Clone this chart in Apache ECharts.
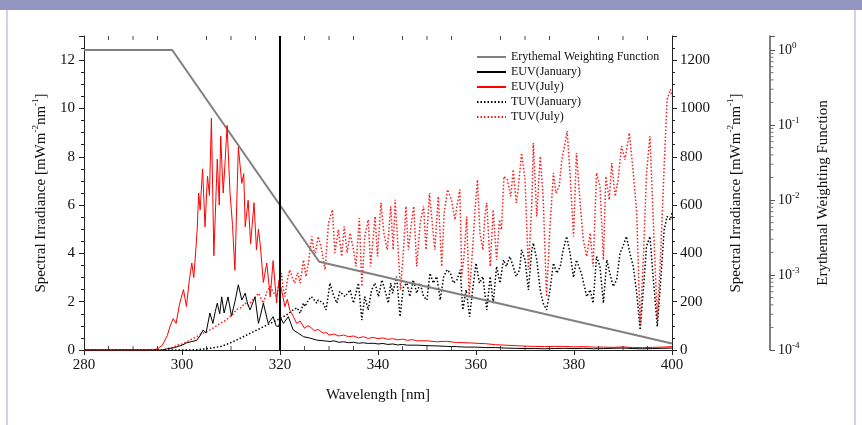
<!DOCTYPE html>
<html>
<head>
<meta charset="utf-8">
<script src="https://cdn.jsdelivr.net/npm/echarts@6/dist/echarts.min.js"></script>
<style>
html,body{margin:0;padding:0;background:#fff;}
#c{width:862px;height:425px;}
</style>
</head>
<body>
<div id="c"></div>
<script>
// ---- data (wavelength nm, value) ----
const xTicks = [280, 300, 320, 340, 360, 380, 400];
const xMinorTicks = [285,290,295,305,310,315,325,330,335,345,350,355,365,370,375,385,390,395];
const leftTicks = [0, 2, 4, 6, 8, 10, 12];
const rightTicks = [0, 200, 400, 600, 800, 1000, 1200];
const logTicks = [-4, -3, -2, -1, 0];
const logMinorMult = [2, 3, 4, 5, 6, 7, 8, 9];

const erythemal = [[280, 1], [298, 1], [328, 0.0015], [400, 0.000122]];

const euvJan = [[280,0],[296,0],[297,0.05],[298.5,0.1],[300,0.2],[301,0.3],[302,0.35],[303,0.4],[303.7,0.6],[304.3,0.83],[304.9,0.7],[305.7,1.53],[306.3,1.1],[306.8,1.6],[307.2,1.94],[307.7,1.5],[308.1,2.2],[308.6,1.53],[309.4,2.2],[310.1,1.4],[310.8,2.0],[311.5,2.7],[312.2,2.07],[312.9,2.35],[313.4,1.9],[313.9,1.66],[314.9,2.2],[315.6,1.1],[316.1,1.5],[316.6,1.94],[317.6,1.1],[318.6,1.38],[319.2,1.0],[319.7,0.97],[320.2,1.3],[320.7,1.1],[321.7,1.38],[322.7,0.83],[323.7,0.7],[324.8,0.55],[326,0.5],[327.5,0.41],[329,0.38],[330.2,0.35],[331,0.38],[332,0.32],[333,0.34],[334,0.3],[335,0.32],[336,0.28],[337,0.3],[338,0.27],[339,0.28],[340,0.25],[341,0.27],[342,0.23],[343,0.25],[344,0.21],[345,0.23],[346,0.2],[348,0.2],[350,0.18],[352,0.17],[354,0.15],[356,0.14],[358,0.12],[360,0.12],[362,0.1],[364,0.1],[366,0.08],[368,0.07],[370,0.06],[372,0.06],[374,0.05],[376,0.06],[378,0.07],[380,0.06],[382,0.07],[384,0.05],[386,0.06],[388,0.07],[390,0.08],[392,0.06],[394,0.05],[396,0.06],[398,0.07],[400,0.08]];

const euvJul = [[280,0],[294,0],[295,0.05],[296,0.2],[297,0.6],[297.6,1.0],[298.2,1.3],[298.8,1.1],[299.5,1.9],[300.3,2.5],[300.9,1.8],[301.5,2.9],[302,3.6],[302.4,3.0],[302.7,3.8],[303.1,5.0],[303.4,6.5],[303.7,5.8],[304.2,7.5],[304.7,5.1],[305.2,7.2],[305.6,6.4],[306,9.6],[306.5,3.9],[307.2,7.9],[307.6,6.0],[307.9,8.85],[308.4,6.5],[308.8,7.8],[309.2,9.3],[309.8,6.5],[310.3,5.2],[310.8,3.3],[311.5,8.4],[312.2,6.9],[312.6,7.3],[312.9,5.1],[313.5,6.2],[314,4.4],[314.7,6.1],[315.2,4.15],[315.6,5.0],[316,4.3],[316.6,2.8],[317.3,3.6],[318,2.2],[318.6,3.7],[319.3,1.95],[319.8,2.9],[320.3,2.5],[321,1.8],[321.5,2.1],[322,1.65],[322.7,1.4],[323.4,1.1],[324.1,1.2],[325,0.9],[325.6,1.0],[326.1,0.97],[327,0.8],[327.8,0.85],[328.8,0.7],[329.5,0.72],[330,0.62],[331,0.66],[332,0.58],[333,0.62],[334,0.55],[335,0.58],[336,0.5],[337,0.55],[338,0.48],[339,0.52],[340,0.47],[341,0.5],[342,0.44],[343,0.47],[344,0.42],[345,0.45],[346,0.4],[347,0.43],[348,0.38],[350,0.38],[352,0.34],[354,0.36],[356,0.31],[358,0.3],[360,0.28],[362,0.26],[364,0.22],[366,0.2],[368,0.18],[370,0.16],[372,0.15],[374,0.14],[376,0.15],[378,0.15],[380,0.13],[382,0.14],[384,0.12],[386,0.12],[388,0.11],[390,0.13],[392,0.1],[394,0.1],[396,0.11],[398,0.12],[400,0.14]];

const tuvJan = [[280,0],[302,0],[304,3],[306,8],[308,15],[309.8,29],[311,40],[312.5,55],[314,70],[315.3,83],[316.5,95],[318,110],[319.5,125],[320.7,138],[321.7,150],[322.7,166],[323.5,175],[324.1,152],[324.8,194],[325.1,180],[325.8,207],[326.4,221],[326.8,228],[327.5,194],[327.8,207],[328.8,194],[329.4,166],[330.2,277],[330.9,228],[331.6,194],[332.2,242],[333.3,221],[334.3,249],[335,194],[336,277],[336.7,124],[337.3,221],[338,166],[338.7,249],[339.4,277],[340.1,221],[340.8,290],[341.4,249],[342.1,194],[342.6,277],[343,235],[343.8,304],[344.5,138],[345.2,263],[345.9,277],[346.5,221],[347.2,290],[347.9,235],[348.6,277],[349.3,221],[350,207],[350.6,318],[351.3,277],[352,304],[352.7,207],[353.4,304],[354.1,332],[354.8,318],[355.4,277],[356.1,290],[356.8,332],[357.3,166],[358,249],[358.7,138],[359.4,263],[360,360],[360.7,277],[361.4,304],[362.2,166],[362.9,304],[363.5,194],[364.2,346],[364.9,277],[365.6,373],[366.2,346],[366.9,387],[367.6,346],[368.2,304],[368.9,332],[369.3,415],[370,373],[370.7,249],[371.4,415],[371.7,443],[372.4,373],[373.1,249],[373.7,194],[374.4,166],[375.1,249],[375.8,360],[376.5,318],[377.2,346],[377.8,415],[378.5,470],[379.2,400],[379.9,300],[380.5,373],[381.5,318],[382.6,221],[383.3,249],[383.9,194],[384.6,387],[385.3,346],[386,194],[386.7,373],[387.3,318],[388,263],[388.7,290],[389.4,401],[390,429],[390.7,470],[391.4,401],[392.1,346],[392.8,235],[393.5,83],[394.2,263],[394.8,429],[395.5,470],[396.2,290],[397,97],[397.7,290],[398.4,498],[399,553],[399.7,539],[400,570]];

const tuvJul = [[280,0],[296,0],[297,5],[298,10],[299,20],[300,25],[301,35],[302,45],[303,55],[304,68],[305,75],[305.7,83],[306.7,95],[307.7,110],[308.7,120],[309.8,138],[310.5,150],[311,166],[312,175],[312.9,194],[313.6,185],[314.4,207],[315,220],[315.6,235],[316.6,194],[317.3,240],[318,263],[318.6,240],[319.3,221],[319.8,280],[320.3,318],[320.6,260],[321,221],[321.5,290],[322,332],[322.5,300],[323,277],[323.6,320],[324.1,277],[324.8,373],[325.3,304],[325.8,360],[326.5,470],[327.1,387],[327.8,470],[328.5,415],[329.2,332],[329.9,526],[330.7,581],[331.2,402],[331.9,498],[332.6,387],[333.1,512],[333.7,402],[334.3,484],[335,415],[335.5,346],[336.2,546],[336.7,263],[337.3,470],[338,539],[338.5,346],[339.4,553],[339.9,387],[340.6,609],[341.2,484],[341.9,415],[342.6,595],[343.1,415],[343.5,622],[344.1,415],[344.6,249],[345.2,415],[345.7,595],[346.2,415],[346.9,539],[347.3,595],[347.9,346],[348.6,526],[349.3,595],[349.8,415],[350.5,650],[351.2,498],[351.6,415],[352.3,636],[353,346],[353.5,567],[354.2,664],[355,622],[355.7,539],[356.1,595],[356.7,664],[357.1,304],[357.6,401],[358.1,553],[358.6,221],[359.3,415],[359.8,581],[360.3,705],[360.8,484],[361.4,415],[361.8,553],[362.2,609],[362.9,346],[363.5,581],[364.2,373],[364.8,539],[365.2,498],[365.7,719],[366.4,705],[367.1,636],[367.6,747],[368.2,609],[368.6,664],[369.3,816],[370,705],[370.7,332],[371.4,609],[371.7,857],[372.4,553],[373.1,802],[373.7,636],[374.4,221],[375.1,512],[375.8,733],[376.3,650],[377,678],[377.5,788],[378.2,857],[378.6,906],[379.2,730],[379.9,470],[380.5,816],[381.2,622],[381.9,456],[382.6,387],[383.3,484],[383.9,346],[384.6,733],[385.3,678],[386,373],[386.5,719],[387.2,622],[387.7,774],[388.4,636],[389,705],[389.7,844],[390.4,788],[391.3,899],[392.1,733],[392.8,567],[393.5,100],[394.2,401],[394.8,733],[395.5,885],[396.2,526],[397,124],[397.7,401],[398.4,761],[399,1037],[399.7,1079],[400,1050]];

// axis decoration tick positions
const logMinor = [];
logTicks.slice(0, -1).forEach(e => logMinorMult.forEach(m => logMinor.push([400, e + Math.log10(m)])));
logMinorMult.forEach(m => { const v = Math.log10(m); if (v < 0.187) logMinor.push([400, v]); });
const topMinor = xMinorTicks.map(x => [x, 13]);
const bottomMinor = xMinorTicks.map(x => [x, 0]);

// ---- chart ----
const FONT = '"Liberation Serif", "Times New Roman", serif';
const chart = echarts.init(document.getElementById('c'), null, {renderer: 'canvas'});
const axisCol = '#222';
const nameRich = {
  n: {fontFamily: FONT, fontSize: 15, color: '#111', lineHeight: 20},
  s: {fontFamily: FONT, fontSize: 9, color: '#111', verticalAlign: 'top', lineHeight: 20}
};
const LOG_OFFSET = 98;
const tickSeries = (data, yIdx, size, offset, color) => ({
  type: 'scatter', xAxisIndex: 0, yAxisIndex: yIdx, data: data, silent: true, clip: false,
  symbol: 'rect', symbolSize: size, symbolOffset: offset, z: 6,
  itemStyle: {color: color}, emphasis: {disabled: true}, tooltip: {show: false}
});

const option = {
  animation: false,
  backgroundColor: '#fff',
  graphic: [
    {type: 'rect', left: 0, top: 0, shape: {width: 862, height: 10}, style: {fill: '#9595c1'}, silent: true},
    {type: 'rect', left: 6, top: 10, shape: {width: 2, height: 415}, style: {fill: '#d2d2ea'}, silent: true},
    {type: 'rect', left: 854, top: 10, shape: {width: 2, height: 415}, style: {fill: '#d2d2ea'}, silent: true}
  ],
  grid: {left: 84, right: 190, top: 36, bottom: 75, containLabel: false},
  legend: {
    orient: 'vertical', left: 471, top: 46, itemWidth: 29, itemHeight: 12, itemGap: 3,
    itemStyle: {color: 'rgba(0,0,0,0)', borderWidth: 0, opacity: 0},
    textStyle: {fontFamily: FONT, fontSize: 12, color: '#111'},
    data: ['Erythemal Weighting Function', 'EUV(January)', 'EUV(July)', 'TUV(January)', 'TUV(July)']
  },
  xAxis: [
    {
      type: 'value', position: 'bottom', min: xTicks[0], max: xTicks[xTicks.length - 1], interval: 20,
      name: 'Wavelength [nm]', nameLocation: 'middle', nameGap: 38,
      nameTextStyle: {fontFamily: FONT, fontSize: 15, color: '#111'},
      axisLine: {show: true, lineStyle: {color: axisCol, width: 1}},
      axisTick: {show: true, length: 5, lineStyle: {color: axisCol}},
      axisLabel: {fontFamily: FONT, fontSize: 15, color: '#111', margin: 8},
      splitLine: {show: false}
    },
    {
      type: 'value', position: 'top', min: 280, max: 400, interval: 20,
      axisLine: {show: true, lineStyle: {color: axisCol, width: 1}},
      axisTick: {show: false}, axisLabel: {show: false}, splitLine: {show: false}
    }
  ],
  yAxis: [
    {
      type: 'value', position: 'left', min: 0, max: 13, interval: 2,
      name: '{n|Spectral Irradiance [mWm}{s|-2}{n|nm}{s|-1}{n|]}',
      nameLocation: 'middle', nameGap: 33, nameRotate: 90,
      nameTextStyle: {rich: nameRich},
      axisLine: {show: true, lineStyle: {color: axisCol, width: 1}},
      axisTick: {show: true, length: 5, lineStyle: {color: axisCol}},
      minorTick: {show: true, splitNumber: 4, length: 3, lineStyle: {color: axisCol}},
      axisLabel: {fontFamily: FONT, fontSize: 15, color: '#111', margin: 9,
        customValues: leftTicks},
      splitLine: {show: false}
    },
    {
      type: 'value', position: 'right', min: 0, max: 1300, interval: 200,
      name: '{n|Spectral Irradiance [mWm}{s|-2}{n|nm}{s|-1}{n|]}',
      nameLocation: 'middle', nameGap: 54, nameRotate: 90,
      nameTextStyle: {rich: nameRich},
      axisLine: {show: true, lineStyle: {color: axisCol, width: 1}},
      axisTick: {show: true, length: 5, lineStyle: {color: axisCol}},
      minorTick: {show: true, splitNumber: 4, length: 3, lineStyle: {color: axisCol}},
      axisLabel: {fontFamily: FONT, fontSize: 15, color: '#111', margin: 8,
        customValues: rightTicks, formatter: v => String(v)},
      splitLine: {show: false}
    },
    {
      type: 'value', position: 'right', offset: LOG_OFFSET, min: logTicks[0], max: 0.187, interval: 1,
      name: 'Erythemal Weighting Function', nameLocation: 'middle', nameGap: 46, nameRotate: 90,
      nameTextStyle: {fontFamily: FONT, fontSize: 15, color: '#111'},
      axisLine: {show: true, lineStyle: {color: '#555', width: 1.5}},
      axisTick: {show: true, length: 5, lineStyle: {color: '#555'}},
      axisLabel: {
        margin: 8, customValues: logTicks,
        formatter: v => '{b|10}{s|' + Math.round(v) + '}',
        rich: {
          b: {fontFamily: FONT, fontSize: 14, color: '#111', lineHeight: 18},
          s: {fontFamily: FONT, fontSize: 9, color: '#111', verticalAlign: 'top', lineHeight: 18}
        }
      },
      splitLine: {show: false}
    }
  ],
  series: [
    {
      name: 'Erythemal Weighting Function', type: 'line', xAxisIndex: 0, yAxisIndex: 2,
      data: erythemal.map(p => [p[0], Math.log10(p[1])]),
      symbol: 'none', lineStyle: {color: '#808080', width: 2}, itemStyle: {color: '#808080'}, z: 3
    },
    {
      name: 'EUV(January)', type: 'line', xAxisIndex: 0, yAxisIndex: 0, data: euvJan,
      symbol: 'none', lineStyle: {color: '#000', width: 1}, itemStyle: {color: '#000'}, z: 4,
      markLine: {
        silent: true, symbol: ['none', 'none'], label: {show: false},
        lineStyle: {color: '#000', width: 2, type: 'solid'},
        data: [{xAxis: 320}]
      }
    },
    {
      name: 'EUV(July)', type: 'line', xAxisIndex: 0, yAxisIndex: 0, data: euvJul,
      symbol: 'none', lineStyle: {color: '#ff0000', width: 1}, itemStyle: {color: '#ff0000'}, z: 3
    },
    {
      name: 'TUV(January)', type: 'line', xAxisIndex: 0, yAxisIndex: 1, data: tuvJan,
      symbol: 'none', lineStyle: {color: '#000', width: 1.5, type: [1.5, 2]}, itemStyle: {color: '#000'}, z: 2
    },
    {
      name: 'TUV(July)', type: 'line', xAxisIndex: 0, yAxisIndex: 1, data: tuvJul,
      symbol: 'none', lineStyle: {color: '#ff1a1a', width: 1.5, type: [1.5, 2]}, itemStyle: {color: '#ff1a1a'}, z: 2
    },
    tickSeries(logMinor, 2, [3, 1], [LOG_OFFSET + 2, 0], '#555'),
    tickSeries(topMinor, 0, [1, 4], [0, 2], axisCol),
    tickSeries(bottomMinor, 0, [1, 4], [0, -2], axisCol)
  ]
};
chart.setOption(option);
</script>
</body>
</html>
